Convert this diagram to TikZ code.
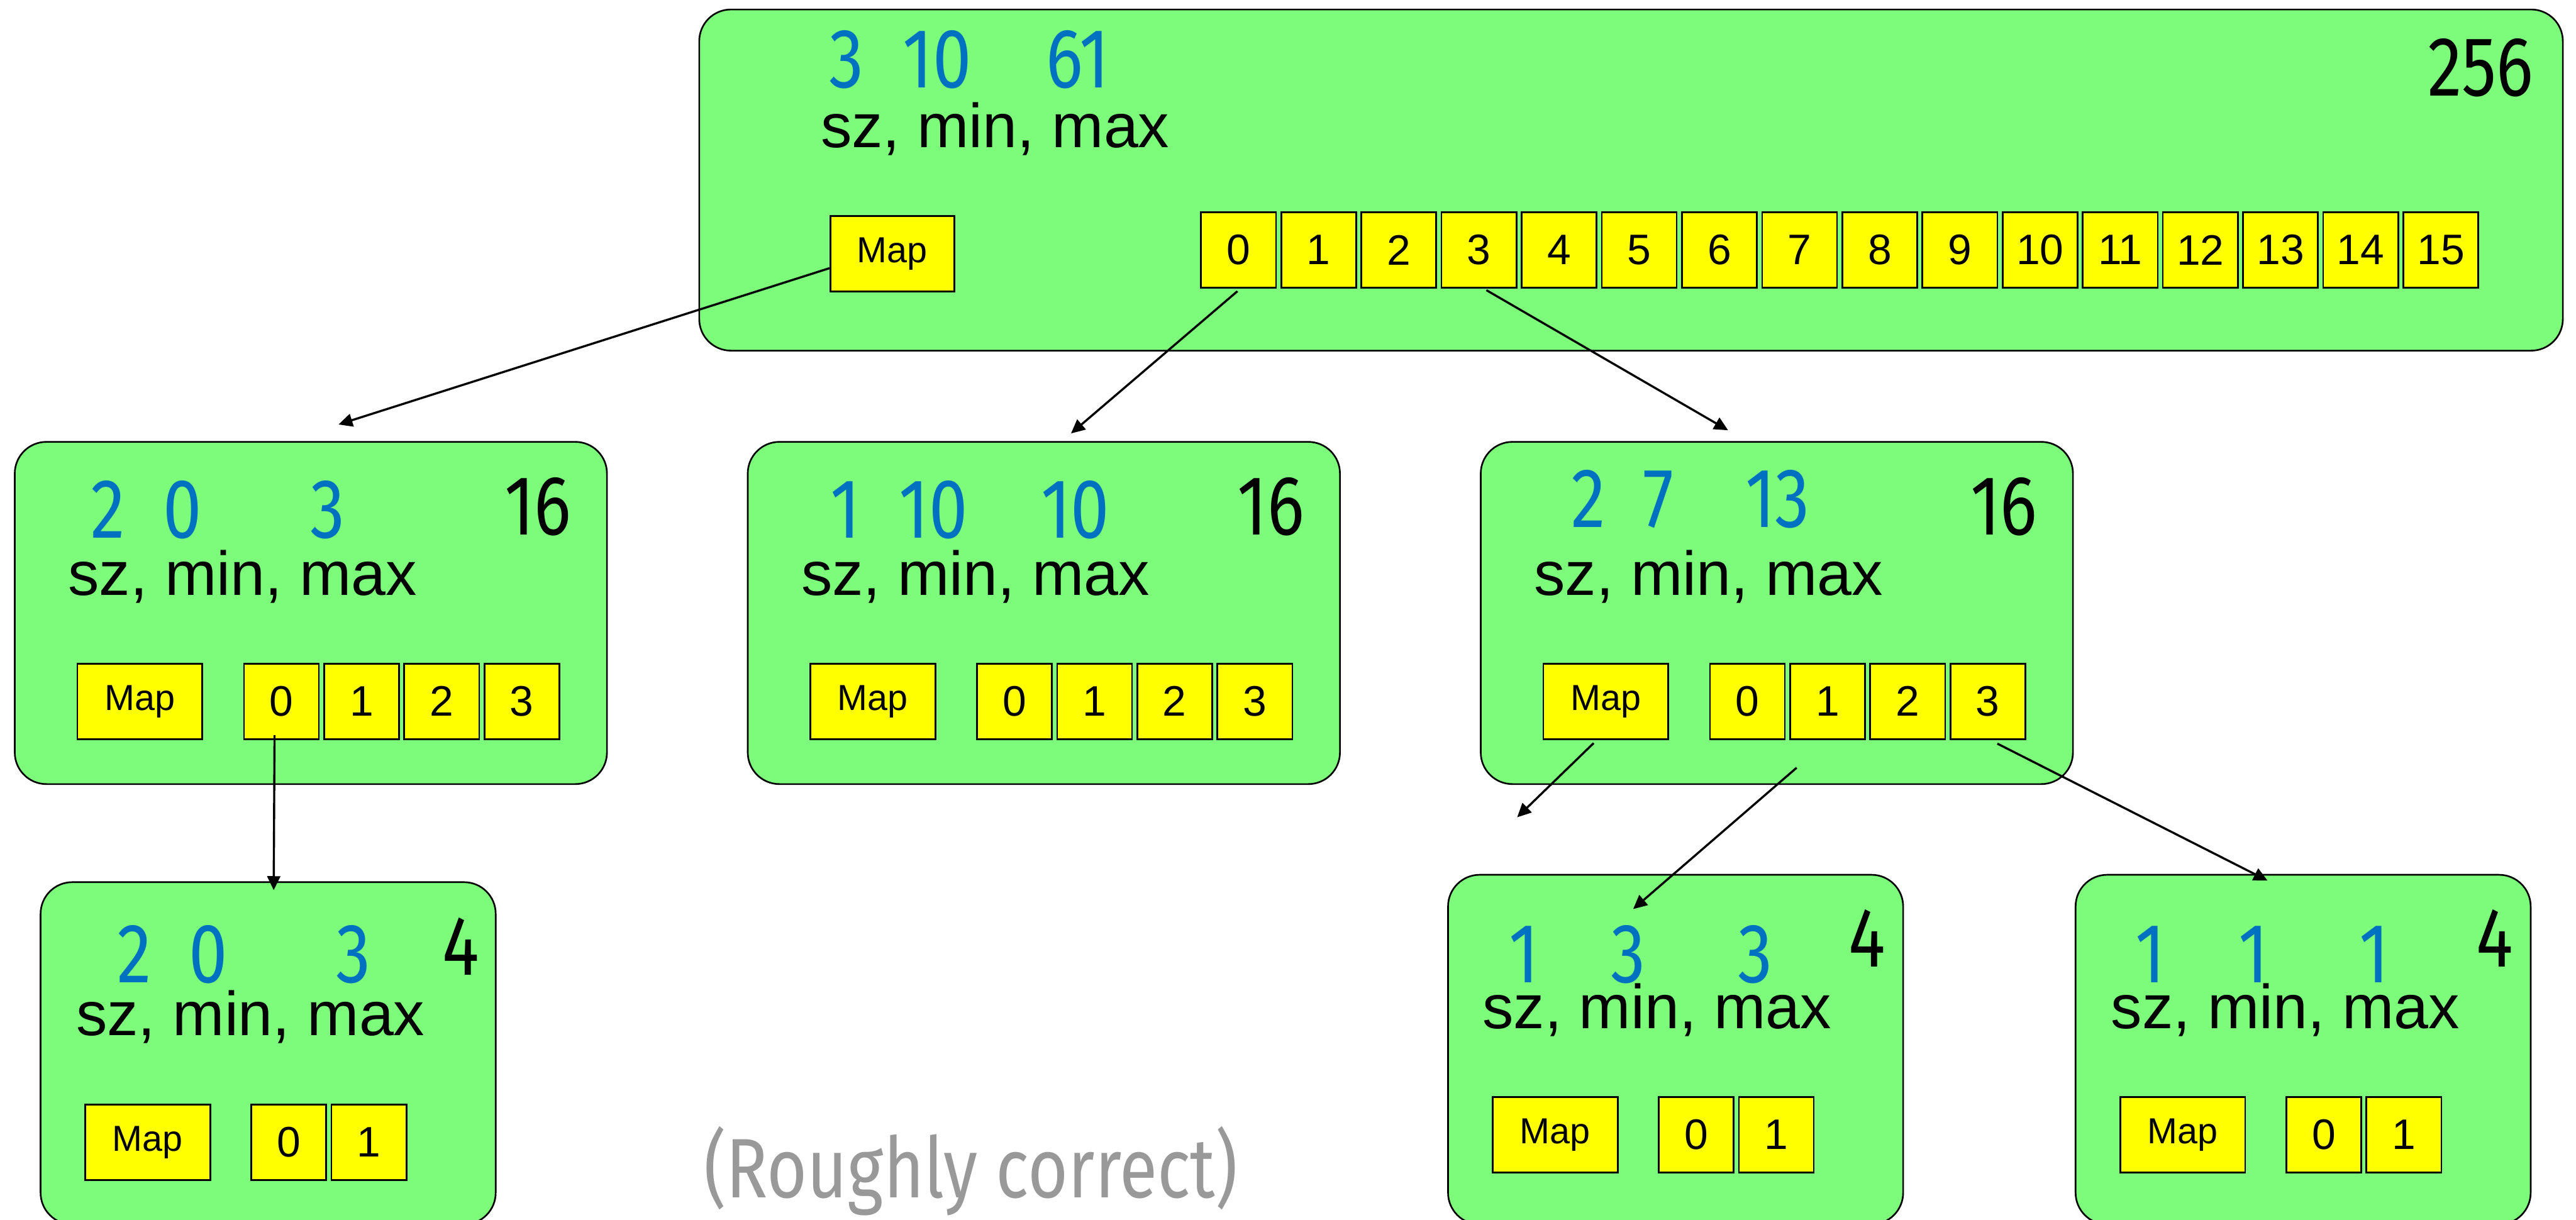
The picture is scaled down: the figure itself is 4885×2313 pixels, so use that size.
\documentclass[tikz,border=0pt]{standalone}
\usepackage{fontspec}
\setmainfont{Liberation Sans}
\newfontfamily\firafont[FakeStretch=0.82]{Fira Sans}
\usetikzlibrary{arrows.meta,calc,fit}
\definecolor{boxgreen}{RGB}{124,252,122}
\definecolor{cellyellow}{RGB}{255,255,0}
\definecolor{numblue}{RGB}{0,112,192}
\definecolor{notegray}{RGB}{153,153,153}
\tikzset{
  bigbox/.style={draw=black, line width=0.9pt, fill=boxgreen, rounded corners=0.6cm, inner sep=0pt},
  cellbox/.style={draw=black, line width=0.9pt, fill=cellyellow, minimum width=1.42cm, minimum height=1.43cm, inner sep=0pt, anchor=north west, font=\fontsize{23}{26}\selectfont},
  mapbox/.style={cellbox, minimum width=2.37cm, font=\fontsize{19.5}{22}\selectfont},
  bluenum/.style={text=numblue, inner sep=0pt, anchor=base, text depth=0pt, font=\firafont\fontsize{45.5}{50}\selectfont},
  sizenum/.style={bluenum, text=black},
  fieldtext/.style={inner sep=0pt, anchor=base, text height=0.6em, text depth=0.1em, font=\fontsize{33.5}{38}\selectfont},
  conn/.style={line width=1.15pt, -{Triangle[length=7.5pt,width=7pt]}},
}
\begin{document}
\begin{tikzpicture}[x=0.01cm, y=-0.01cm]
\useasboundingbox (0,0) rectangle (4885,2313);
\clip (0,0) rectangle (4885,2313);

% ---------- top node ----------
\node[bigbox, fit={(1326,18)(4860,665)}] (top) {};
\node[mapbox, minimum width=2.35cm] (tmap) at (1573,408) {Map};
\foreach \i in {0,...,15} \node[cellbox] (tc\i) at ({2276+152*\i},401) {\i};
\node[bluenum] (tsz) at (1605,166) {3};
\node[bluenum] (tmin) at (1777,166) {10};
\node[bluenum] (tmax) at (2044,166) {61};
\node[sizenum] (tsize) at (4704,182) {256};
\node[fieldtext] (tfields) at (1887,280) {sz, min, max};

% ---------- second row ----------
\foreach \b/\dx in {l/0,m/1390,r/2780}{
  \node[bigbox, fit={({28+\dx},838)({1151+\dx},1487)}] (\b-box) {};
  \node[mapbox] (\b-map) at ({145+\dx},1257) {Map};
  \foreach \j in {0,...,3} \node[cellbox] (\b-c\j) at ({461+152*\j+\dx},1257) {\j};
  \node[fieldtext] (\b-fields) at ({460+\dx},1129) {sz, min, max};
  \node[sizenum] (\b-size) at ({1020+\dx},1014) {16};
}
\node[bluenum] (l-sz) at (205,1020) {2};
\node[bluenum] (l-min) at (346,1020) {0};
\node[bluenum] (l-max) at (621,1020) {3};
\node[bluenum] (m-sz) at (1603,1020) {1};
\node[bluenum] (m-min) at (1770,1020) {10};
\node[bluenum] (m-max) at (2039,1020) {10};
\node[bluenum] (r-sz) at (3012,1000) {2};
\node[bluenum] (r-min) at (3145,1000) {7};
\node[bluenum] (r-max) at (3371,1000) {13};

% ---------- third row ----------
\foreach \b/\x/\y in {bl/77/1673, bm/2746/1659, br/3936/1659}{
  \node[bigbox, fit={(\x,\y)({\x+863},2322)}] (\b-box) {};
  \node[mapbox] (\b-map) at ({\x+83},{\y+420}) {Map};
  \node[cellbox] (\b-c0) at ({\x+398},{\y+420}) {0};
  \node[cellbox] (\b-c1) at ({\x+550},{\y+420}) {1};
}
\node[fieldtext] (bl-fields) at (475,1964) {sz, min, max};
\node[fieldtext] (bm-fields) at (3142,1950) {sz, min, max};
\node[fieldtext] (br-fields) at (4334,1950) {sz, min, max};
\node[bluenum] (bl-sz) at (255,1864) {2};
\node[bluenum] (bl-min) at (395,1864) {0};
\node[bluenum] (bl-max) at (670,1864) {3};
\node[sizenum] (bl-size) at (874,1849) {4};
\node[bluenum] (bm-sz) at (2890,1864) {1};
\node[bluenum] (bm-min) at (3088,1864) {3};
\node[bluenum] (bm-max) at (3328,1864) {3};
\node[sizenum] (bm-size) at (3540,1834) {4};
\node[bluenum] (br-sz) at (4078,1864) {1};
\node[bluenum] (br-min) at (4273,1864) {1};
\node[bluenum] (br-max) at (4503,1864) {1};
\node[sizenum] (br-size) at (4731,1834) {4};

\node[sizenum, text=notegray] (note) at (1841,2271) {(Roughly correct)};

% ---------- connectors ----------
\coordinate (a-l) at (642,805);
\coordinate (a-m) at (2031,822);
\coordinate (a-r) at (3277,816);
\coordinate (a-bl) at (519,1688);
\coordinate (d-free) at (2877,1550);
\coordinate (s-r1) at (3407,1456);
\coordinate (a-bm) at (3097,1724);
\coordinate (a-br) at (4300,1670);
\draw[conn] (tmap.193.6) -- (a-l);
\draw[conn] ($(tc0.south)+(-2,5)$) -- (a-m);
\draw[conn] ($(tc3.south)+(14,3)$) -- (a-r);
\draw[conn] ($(l-c0.south)+(-13,-9)$) -- (a-bl);
\draw[conn] ($(r-map.south)+(-23,6)$) -- (d-free);
\draw[conn] (s-r1) -- (a-bm);
\draw[conn] ($(r-c3.south)+(18,7)$) -- (a-br);
\end{tikzpicture}
\end{document}
